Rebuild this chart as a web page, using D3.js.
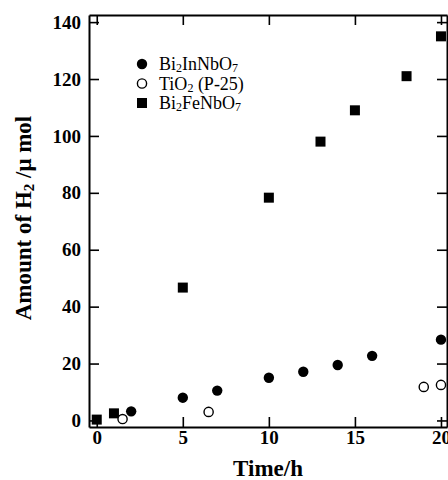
<!DOCTYPE html>
<html>
<head>
<meta charset="utf-8">
<script src="https://cdn.jsdelivr.net/npm/d3@7"></script>
<style>
  body { margin: 0; background: #fff; }
  text { font-family: "Liberation Serif", "Times New Roman", serif; }
</style>
</head>
<body>
<svg width="448" height="480"></svg>
<script>
// series data
const inX = [2, 5, 7, 10, 12, 14, 16, 20];
const inY = [3.2, 8, 10.5, 15, 17.1, 19.5, 22.7, 28.4];
const tiX = [1.5, 6.5, 19, 20];
const tiY = [0.5, 3, 11.8, 12.5];
const feX = [0, 1, 5, 10, 13, 15, 18, 20];
const feY = [0.3, 2.5, 46.7, 78.3, 98, 109, 121, 135];
const xTicks = [0, 5, 10, 15, 20];
const yTicks = [0, 20, 40, 60, 80, 100, 120, 140];

const svg = d3.select('svg');

const x = d3.scaleLinear().domain([-0.45, 20.35]).range([89, 447]);
const y = d3.scaleLinear().domain([-2.3, 142.5]).range([427, 15]);

function styleAxis(g) {
  g.selectAll('path.domain').attr('stroke', '#000').attr('stroke-width', 2);
  g.selectAll('.tick line').attr('stroke', '#000').attr('stroke-width', 1.6);
  g.selectAll('.tick text')
    .attr('font-family', '"Liberation Serif", serif')
    .attr('font-weight', 'bold')
    .attr('font-size', 19)
    .attr('fill', '#000');
}

svg.append('g')
  .attr('transform', 'translate(0,427)')
  .call(d3.axisBottom(x).tickValues(xTicks).tickSize(-10).tickSizeOuter(0).tickPadding(3))
  .call(styleAxis);

svg.append('g')
  .attr('transform', 'translate(0,15)')
  .call(d3.axisTop(x).tickValues(xTicks).tickSize(-10).tickSizeOuter(0).tickFormat(''))
  .call(styleAxis);

svg.append('g')
  .attr('transform', 'translate(89,0)')
  .call(d3.axisLeft(y).tickValues(yTicks).tickSize(-10).tickSizeOuter(0).tickPadding(8))
  .call(styleAxis);

svg.append('g')
  .attr('transform', 'translate(447,0)')
  .call(d3.axisRight(y).tickValues(yTicks).tickSize(-10).tickSizeOuter(0).tickFormat(''))
  .call(styleAxis);

// markers
const plot = svg.append('g');

plot.selectAll('.fe')
  .data(d3.zip(feX, feY))
  .enter()
  .append('rect')
  .classed('fe', true)
  .attr('x', d => x(d[0]) - 5)
  .attr('y', d => y(d[1]) - 5)
  .attr('width', 10)
  .attr('height', 10)
  .attr('fill', '#000');

plot.selectAll('.ti')
  .data(d3.zip(tiX, tiY))
  .enter()
  .append('circle')
  .classed('ti', true)
  .attr('cx', d => x(d[0]))
  .attr('cy', d => y(d[1]))
  .attr('r', 4.6)
  .attr('fill', '#fff')
  .attr('stroke', '#000')
  .attr('stroke-width', 1.4);

plot.selectAll('.in')
  .data(d3.zip(inX, inY))
  .enter()
  .append('circle')
  .classed('in', true)
  .attr('cx', d => x(d[0]))
  .attr('cy', d => y(d[1]))
  .attr('r', 5.2)
  .attr('fill', '#000');

// legend
const legend = [
  {type: 'in', parts: [['Bi', 0], ['2', 1], ['InNbO', 0], ['7', 1]]},
  {type: 'ti', parts: [['TiO', 0], ['2', 1], [' (P-25)', 0]]},
  {type: 'fe', parts: [['Bi', 0], ['2', 1], ['FeNbO', 0], ['7', 1]]}
];
const leg = svg.append('g');
legend.forEach((item, i) => {
  const cy = 64 + i * 19.5;
  if (item.type === 'in') {
    leg.append('circle').attr('cx', 142).attr('cy', cy).attr('r', 5.2).attr('fill', '#000');
  } else if (item.type === 'ti') {
    leg.append('circle').attr('cx', 142).attr('cy', cy).attr('r', 4.6)
      .attr('fill', '#fff').attr('stroke', '#000').attr('stroke-width', 1.4);
  } else {
    leg.append('rect').attr('x', 137).attr('y', cy - 5).attr('width', 10).attr('height', 10).attr('fill', '#000');
  }
  const t = leg.append('text')
    .attr('x', 159)
    .attr('y', cy + 6)
    .attr('font-size', 18)
    .attr('fill', '#000');
  item.parts.forEach(p => {
    const ts = t.append('tspan').text(p[0]);
    if (p[1]) ts.attr('font-size', 12).attr('dy', 2);
    else ts.attr('dy', 0);
  });
  // reset baseline after subscripts
  t.selectAll('tspan').each(function(d, j, nodes) {
    const prev = j > 0 ? nodes[j - 1] : null;
    const isSub = d3.select(this).attr('font-size') === '12';
    const prevSub = prev && d3.select(prev).attr('font-size') === '12';
    if (!isSub && prevSub) d3.select(this).attr('dy', -2);
  });
});

// axis titles
svg.append('text')
  .attr('x', 268)
  .attr('y', 476)
  .attr('text-anchor', 'middle')
  .attr('font-size', 23)
  .attr('font-weight', 'bold')
  .text('Time/h');

const yl = svg.append('text')
  .attr('transform', 'translate(31,218) rotate(-90)')
  .attr('text-anchor', 'middle')
  .attr('font-size', 23)
  .attr('font-weight', 'bold');
yl.append('tspan').text('Amount of H');
yl.append('tspan').text('2').attr('font-size', 15).attr('dy', 3);
yl.append('tspan').text(' /\u03bc mol').attr('dy', -3);
</script>
</body>
</html>
